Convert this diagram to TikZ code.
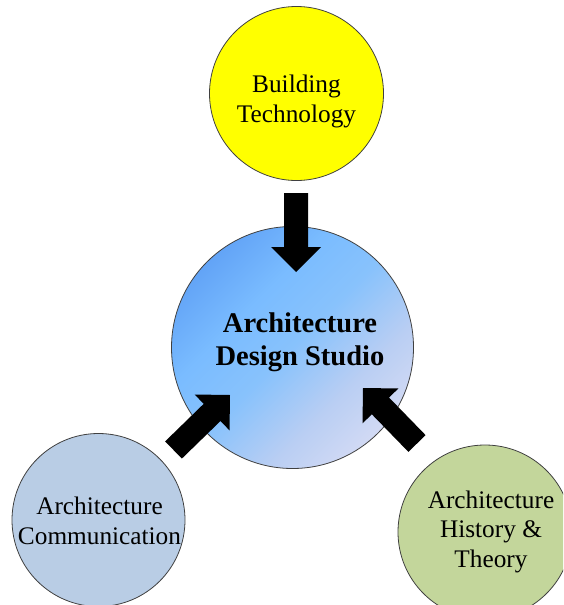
\documentclass[tikz,border=0pt]{standalone}
\usepackage{fontspec}
\setmainfont{Liberation Serif}
\usetikzlibrary{calc}
\definecolor{ytech}{RGB}{255,255,0}
\definecolor{comm}{RGB}{185,205,229}
\definecolor{hist}{RGB}{195,214,155}
\definecolor{rim}{RGB}{64,64,64}
\definecolor{dsA}{RGB}{80,145,240}
\definecolor{dsB}{RGB}{122,188,255}
\definecolor{dsM}{RGB}{136,194,252}
\definecolor{dsD}{RGB}{185,206,243}
\definecolor{dsC}{RGB}{232,228,245}
\pgfdeclarehorizontalshading{dsshade}{100bp}{color(0bp)=(dsA); color(15bp)=(dsA); color(38bp)=(dsB); color(50bp)=(dsM); color(64bp)=(dsD); color(85bp)=(dsC); color(100bp)=(dsC)}
\tikzset{
  bubble/.style={circle, draw=rim, line width=0.8pt, inner sep=0pt, minimum size=174pt},
  lbl/.style={align=center, inner sep=0pt, font=\fontsize{25.3}{29.5}\selectfont, text=black},
  blbl/.style={align=center, inner sep=0pt, font=\fontsize{28.5}{33}\selectfont\bfseries, text=black},
  arrowfill/.style={fill=black},
}
\newcommand\blockarrow[2]{%
  \coordinate (#2-b) at ($(#2)!25pt!(#1)$);
  \fill[arrowfill] ($(#1)!12pt!90:(#2)$) -- ($(#2-b)!12pt!-90:(#1)$) -- ($(#2-b)!25pt!-90:(#1)$) -- (#2)
    -- ($(#2-b)!25pt!90:(#1)$) -- ($(#2-b)!12pt!90:(#1)$) -- ($(#1)!12pt!-90:(#2)$) -- cycle;}
\begin{document}
\begin{tikzpicture}[x=1pt,y=-1pt]
\useasboundingbox (0,0) rectangle (563,605);
\clip (0,0) rectangle (563,605);
% circles
\node[bubble, fill=ytech] (bt) at (296.5,93.5) {};
\node[bubble, minimum size=242pt, shading=dsshade, shading angle=-45] (ds) at (292.5,347.5) {};
\node[bubble, minimum size=173pt, fill=comm] (ac) at (98.5,520) {};
\node[bubble, fill=hist] (ah) at (485,532) {};
% labels
\node[lbl] (btl) at (296.5,101.3) {Building\\Technology};
\node[blbl] (dsl) at (300,341.8) {Architecture\\Design Studio};
\node[lbl] (acl) at (99.5,520.6) {Architecture\\Communication};
\node[lbl] (ahl) at (491,531.7) {Architecture\\History \&\\Theory};
% arrows
\coordinate (a1s) at (296,193);
\coordinate (a1e) at (296,272);
\coordinate (a2s) at (173.5,450);
\coordinate (a2e) at (230,395);
\coordinate (a3s) at (417,443.5);
\coordinate (a3e) at (363,388);
\blockarrow{a1s}{a1e}
\blockarrow{a2s}{a2e}
\blockarrow{a3s}{a3e}
\end{tikzpicture}
\end{document}
